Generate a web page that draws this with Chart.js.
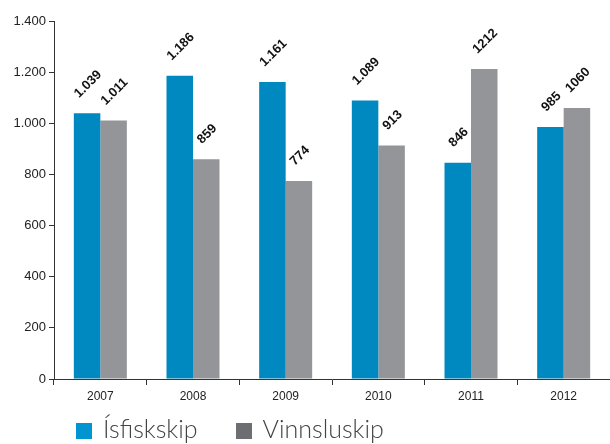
<!DOCTYPE html>
<html>
<head>
<meta charset="utf-8">
<script src="https://cdn.jsdelivr.net/npm/chart.js@4.4.0/dist/chart.umd.min.js"></script>
<style>
  html, body { margin: 0; padding: 0; background: #fff; overflow: hidden; }
  #wrap { position: relative; width: 610px; height: 444px; }
  #legend { position: absolute; left: 76px; top: 413px; font-family: Lato, "Open Sans", sans-serif; font-weight: 300; font-size: 25px; color: #444; white-space: nowrap; }
  #legend span.item { display: inline-block; margin-right: 38px; }
  #legend span.box { display: inline-block; width: 16px; height: 16px; margin-right: 11px; vertical-align: -1px; }
</style>
</head>
<body>
<div id="wrap">
  <canvas id="chart" width="610" height="444"></canvas>
  <div id="legend"></div>
</div>
<script>
// data
const years = ['2007', '2008', '2009', '2010', '2011', '2012'];
const isfiskskip = [1039, 1186, 1161, 1089, 846, 985];
const vinnsluskip = [1011, 859, 774, 913, 1212, 1060];
const isfiskLabels = ['1.039', '1.186', '1.161', '1.089', '846', '985'];
const vinnsluLabels = ['1.011', '859', '774', '913', '1212', '1060'];
const yTicks = ['0', '200', '400', '600', '800', '1.000', '1.200', '1.400'];

const blue = '#0088c0';
const grey = '#939598';

// rotated value labels above bars
const barLabels = {
    id: 'barLabels',
    afterDatasetsDraw(chart) {
        const ctx = chart.ctx;
        const texts = [isfiskLabels, vinnsluLabels];
        ctx.save();
        ctx.font = 'bold 13px Arial, "Liberation Sans", sans-serif';
        ctx.fillStyle = '#111';
        ctx.textAlign = 'center';
        ctx.textBaseline = 'middle';
        chart.data.datasets.forEach((ds, d) => {
            chart.getDatasetMeta(d).data.forEach((bar, i) => {
                const t = texts[d][i];
                const w = ctx.measureText(t).width;
                const cy = bar.y - 13 - (w + 13) * 0.707 / 2;
                ctx.save();
                ctx.translate(bar.x + 1, cy);
                ctx.rotate(-Math.PI / 4);
                ctx.fillText(t, 0, 0);
                ctx.restore();
            });
        });
        ctx.restore();
    }
};

new Chart(document.getElementById('chart'), {
    type: 'bar',
    data: {
        labels: years,
        datasets: [
            { label: 'Ísfiskskip', data: isfiskskip, backgroundColor: blue },
            { label: 'Vinnsluskip', data: vinnsluskip, backgroundColor: grey }
        ]
    },
    options: {
        responsive: false,
        animation: false,
        layout: { padding: { top: 21, right: 0, bottom: 40, left: 0 } },
        datasets: { bar: { categoryPercentage: 0.572, barPercentage: 1 } },
        plugins: { legend: { display: false }, tooltip: { enabled: false } },
        scales: {
            x: {
                grid: { display: true, drawOnChartArea: false, tickLength: 6, color: '#333' },
                border: { color: '#333', width: 1 },
                ticks: { color: '#222', font: { size: 12, family: 'Arial, "Liberation Sans", sans-serif' }, padding: 4 },
                afterFit: s => { s.height = 25; }
            },
            y: {
                min: 0, max: 1400,
                grid: { display: true, drawOnChartArea: false, tickLength: 5, color: '#333' },
                border: { color: '#333', width: 1 },
                ticks: {
                    stepSize: 200,
                    color: '#222',
                    padding: 3,
                    font: { size: 13, family: 'Arial, "Liberation Sans", sans-serif' },
                    callback: (v, i) => yTicks[i]
                },
                afterFit: s => { s.width = 54; }
            }
        }
    },
    plugins: [barLabels]
});

// legend
const legendEl = document.getElementById('legend');
[['Ísfiskskip', '#0095d0'], ['Vinnsluskip', '#6d6e71']].forEach(([name, col]) => {
    const item = document.createElement('span');
    item.className = 'item';
    item.innerHTML = '<span class="box" style="background:' + col + '"></span>' + name;
    legendEl.appendChild(item);
});
</script>
</body>
</html>
